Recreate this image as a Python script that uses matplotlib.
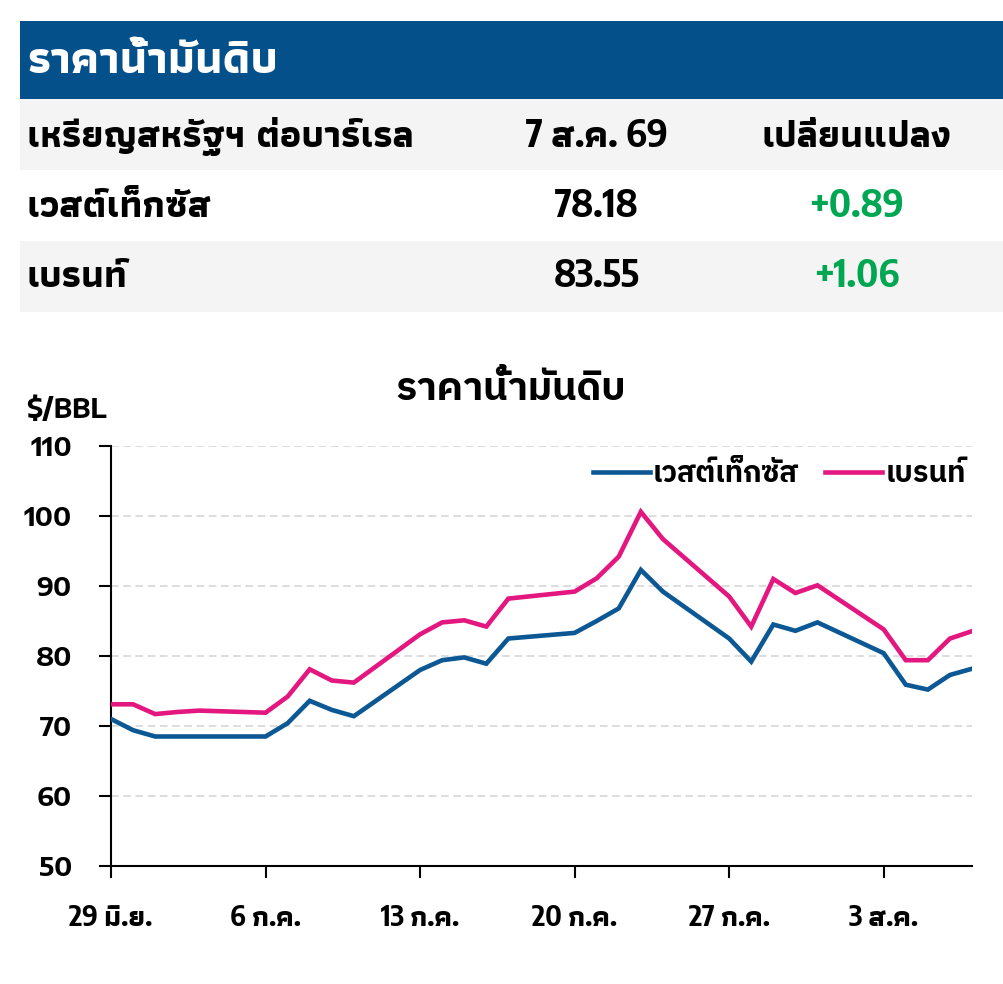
import numpy as np
import matplotlib
matplotlib.use("Agg")
import matplotlib.pyplot as plt
from matplotlib.patches import Rectangle
from matplotlib.lines import Line2D

# ---------------- data ----------------
dates = ["2026-06-29", "2026-06-30", "2026-07-01", "2026-07-02", "2026-07-03",
         "2026-07-06", "2026-07-07", "2026-07-08", "2026-07-09", "2026-07-10",
         "2026-07-13", "2026-07-14", "2026-07-15", "2026-07-16", "2026-07-17",
         "2026-07-20", "2026-07-21", "2026-07-22", "2026-07-23", "2026-07-24",
         "2026-07-27", "2026-07-28", "2026-07-29", "2026-07-30", "2026-07-31",
         "2026-08-03", "2026-08-04", "2026-08-05", "2026-08-06", "2026-08-07"]
wti = [71.0, 69.4, 68.5, 68.5, 68.5,
       68.5, 70.4, 73.6, 72.3, 71.4,
       78.0, 79.4, 79.8, 78.9, 82.5,
       83.3, 85.0, 86.8, 92.3, 89.2,
       82.5, 79.2, 84.5, 83.6, 84.8,
       80.4, 75.9, 75.2, 77.29, 78.18]
brent = [73.1, 73.1, 71.7, 72.0, 72.2,
         71.9, 74.2, 78.1, 76.5, 76.2,
         83.1, 84.8, 85.1, 84.2, 88.2,
         89.2, 91.1, 94.2, 100.6, 96.7,
         88.5, 84.2, 91.0, 89.0, 90.1,
         83.8, 79.4, 79.4, 82.49, 83.55]
series_names = ["เวสต์เท็กซัส", "เบรนท์"]

tick_dates = ["2026-06-29", "2026-07-06", "2026-07-13", "2026-07-20", "2026-07-27", "2026-08-03"]
tick_labels = ["29 มิ.ย.", "6 ก.ค.", "13 ก.ค.", "20 ก.ค.", "27 ก.ค.", "3 ส.ค."]
x_start, x_end = "2026-06-29", "2026-08-07"
y_ticks = [50, 60, 70, 80, 90, 100, 110]

chart_title = "ราคาน้ำมันดิบ"
y_unit = "$/BBL"

table_title = "ราคาน้ำมันดิบ"
table_header = ["เหรียญสหรัฐฯ ต่อบาร์เรล", "7 ส.ค. 69", "เปลี่ยนแปลง"]
table_names = ["เวสต์เท็กซัส", "เบรนท์"]
table_prices = ["78.18", "83.55"]
table_changes = ["+0.89", "+1.06"]

# ---------------- style ----------------
W, H = 1004, 984
BLUE_BAND = "#03508A"
ROW_GRAY = "#F4F4F4"
GREEN = "#00A651"
C_WTI = "#0B5894"
C_BRENT = "#E3177F"

TH_CHART = ["IBM Plex Sans Thai", "DejaVu Sans"]
YNUM = ["Encode Sans Semi Expanded", "Liberation Sans", "DejaVu Sans"]
NARROW = ["Encode Sans Condensed", "Athiti", "DejaVu Sans"]
TABLE_TH = ["Athiti", "DejaVu Sans"]


def fx(x):
    return x / W


def fy(y):
    return 1 - y / H


fig = plt.figure(figsize=(W / 100, H / 100), dpi=100)

# ---------------- table ----------------
fig.patches.append(Rectangle((fx(20), fy(99)), fx(W - 20), 78 / H, transform=fig.transFigure,
                             facecolor=BLUE_BAND, edgecolor="none"))
fig.patches.append(Rectangle((fx(20), fy(170)), fx(W - 20), 71 / H, transform=fig.transFigure,
                             facecolor=ROW_GRAY, edgecolor="none"))
fig.patches.append(Rectangle((fx(20), fy(312)), fx(W - 20), 71 / H, transform=fig.transFigure,
                             facecolor=ROW_GRAY, edgecolor="none"))

fig.text(fx(27), fy(73), table_title, color="white", family=TABLE_TH, weight="bold",
         fontsize=32.5, va="baseline", ha="left")

row_base = [147, 217, 287]
TH_SIZE = 27
NUM_SIZE = 27.5
fig.text(fx(27), fy(row_base[0]), table_header[0], family=TABLE_TH, weight="bold",
         fontsize=TH_SIZE, va="baseline", ha="left")
fig.text(fx(597), fy(row_base[0]), table_header[1], family=NARROW, weight="bold",
         fontsize=NUM_SIZE, va="baseline", ha="center")
fig.text(fx(857), fy(row_base[0]), table_header[2], family=TABLE_TH, weight="bold",
         fontsize=TH_SIZE, va="baseline", ha="center")
for i in range(2):
    fig.text(fx(27), fy(row_base[i + 1]), table_names[i], family=TABLE_TH, weight="bold",
             fontsize=TH_SIZE, va="baseline", ha="left")
    fig.text(fx(597), fy(row_base[i + 1]), table_prices[i], family=NARROW, weight="bold",
             fontsize=NUM_SIZE, va="baseline", ha="center")
    fig.text(fx(857), fy(row_base[i + 1]), table_changes[i], family=NARROW, weight="bold",
             fontsize=NUM_SIZE, va="baseline", ha="center", color=GREEN)

# ---------------- chart ----------------
ax = fig.add_axes([fx(111), fy(866), (972 - 111) / W, (866 - 446) / H])
d = np.array(dates, dtype="datetime64[D]")
ax.plot(d, wti, color=C_WTI, lw=3.3, solid_joinstyle="miter", zorder=3)
ax.plot(d, brent, color=C_BRENT, lw=3.3, solid_joinstyle="miter", zorder=3)

ax.set_xlim(np.datetime64(x_start), np.datetime64(x_end))
ax.set_ylim(y_ticks[0], y_ticks[-1])
ax.set_yticks(y_ticks)
ax.set_xticks(np.array(tick_dates, dtype="datetime64[D]"))
ax.set_xticklabels(tick_labels, family=NARROW, weight="bold", fontsize=20.5)
ax.set_yticklabels([str(v) for v in y_ticks], family=YNUM, weight="bold", fontsize=18.5)

for v in y_ticks[1:]:
    ax.axhline(v, color="#D3D3D3", lw=1.1, ls=(0, (5, 3)), zorder=1)

for s in ["top", "right"]:
    ax.spines[s].set_visible(False)
for s in ["left", "bottom"]:
    ax.spines[s].set_linewidth(1.5)
    ax.spines[s].set_color("black")
ax.tick_params(axis="both", direction="out", length=8.3, width=1.5, color="black")
ax.tick_params(axis="x", pad=18.5)
ax.tick_params(axis="y", pad=19.8)

fig.text(fx(511), fy(400), chart_title, family=TH_CHART, weight="bold", fontsize=28,
         ha="center", va="baseline")
fig.text(fx(26), fy(418), y_unit, family=YNUM, weight="bold", fontsize=19,
         ha="left", va="baseline")

handles = [Line2D([], [], color=C_WTI, lw=3.3), Line2D([], [], color=C_BRENT, lw=3.3)]
ax.legend(handles, series_names, loc="upper right", bbox_to_anchor=(fx(966), fy(460)),
          bbox_transform=fig.transFigure, ncol=2, frameon=False, borderpad=0, borderaxespad=0,
          handlelength=1.95, handletextpad=0.12, columnspacing=0.9,
          prop={"family": TH_CHART, "weight": "bold", "size": 21})

fig.savefig("out.png", dpi=100, facecolor="white")
